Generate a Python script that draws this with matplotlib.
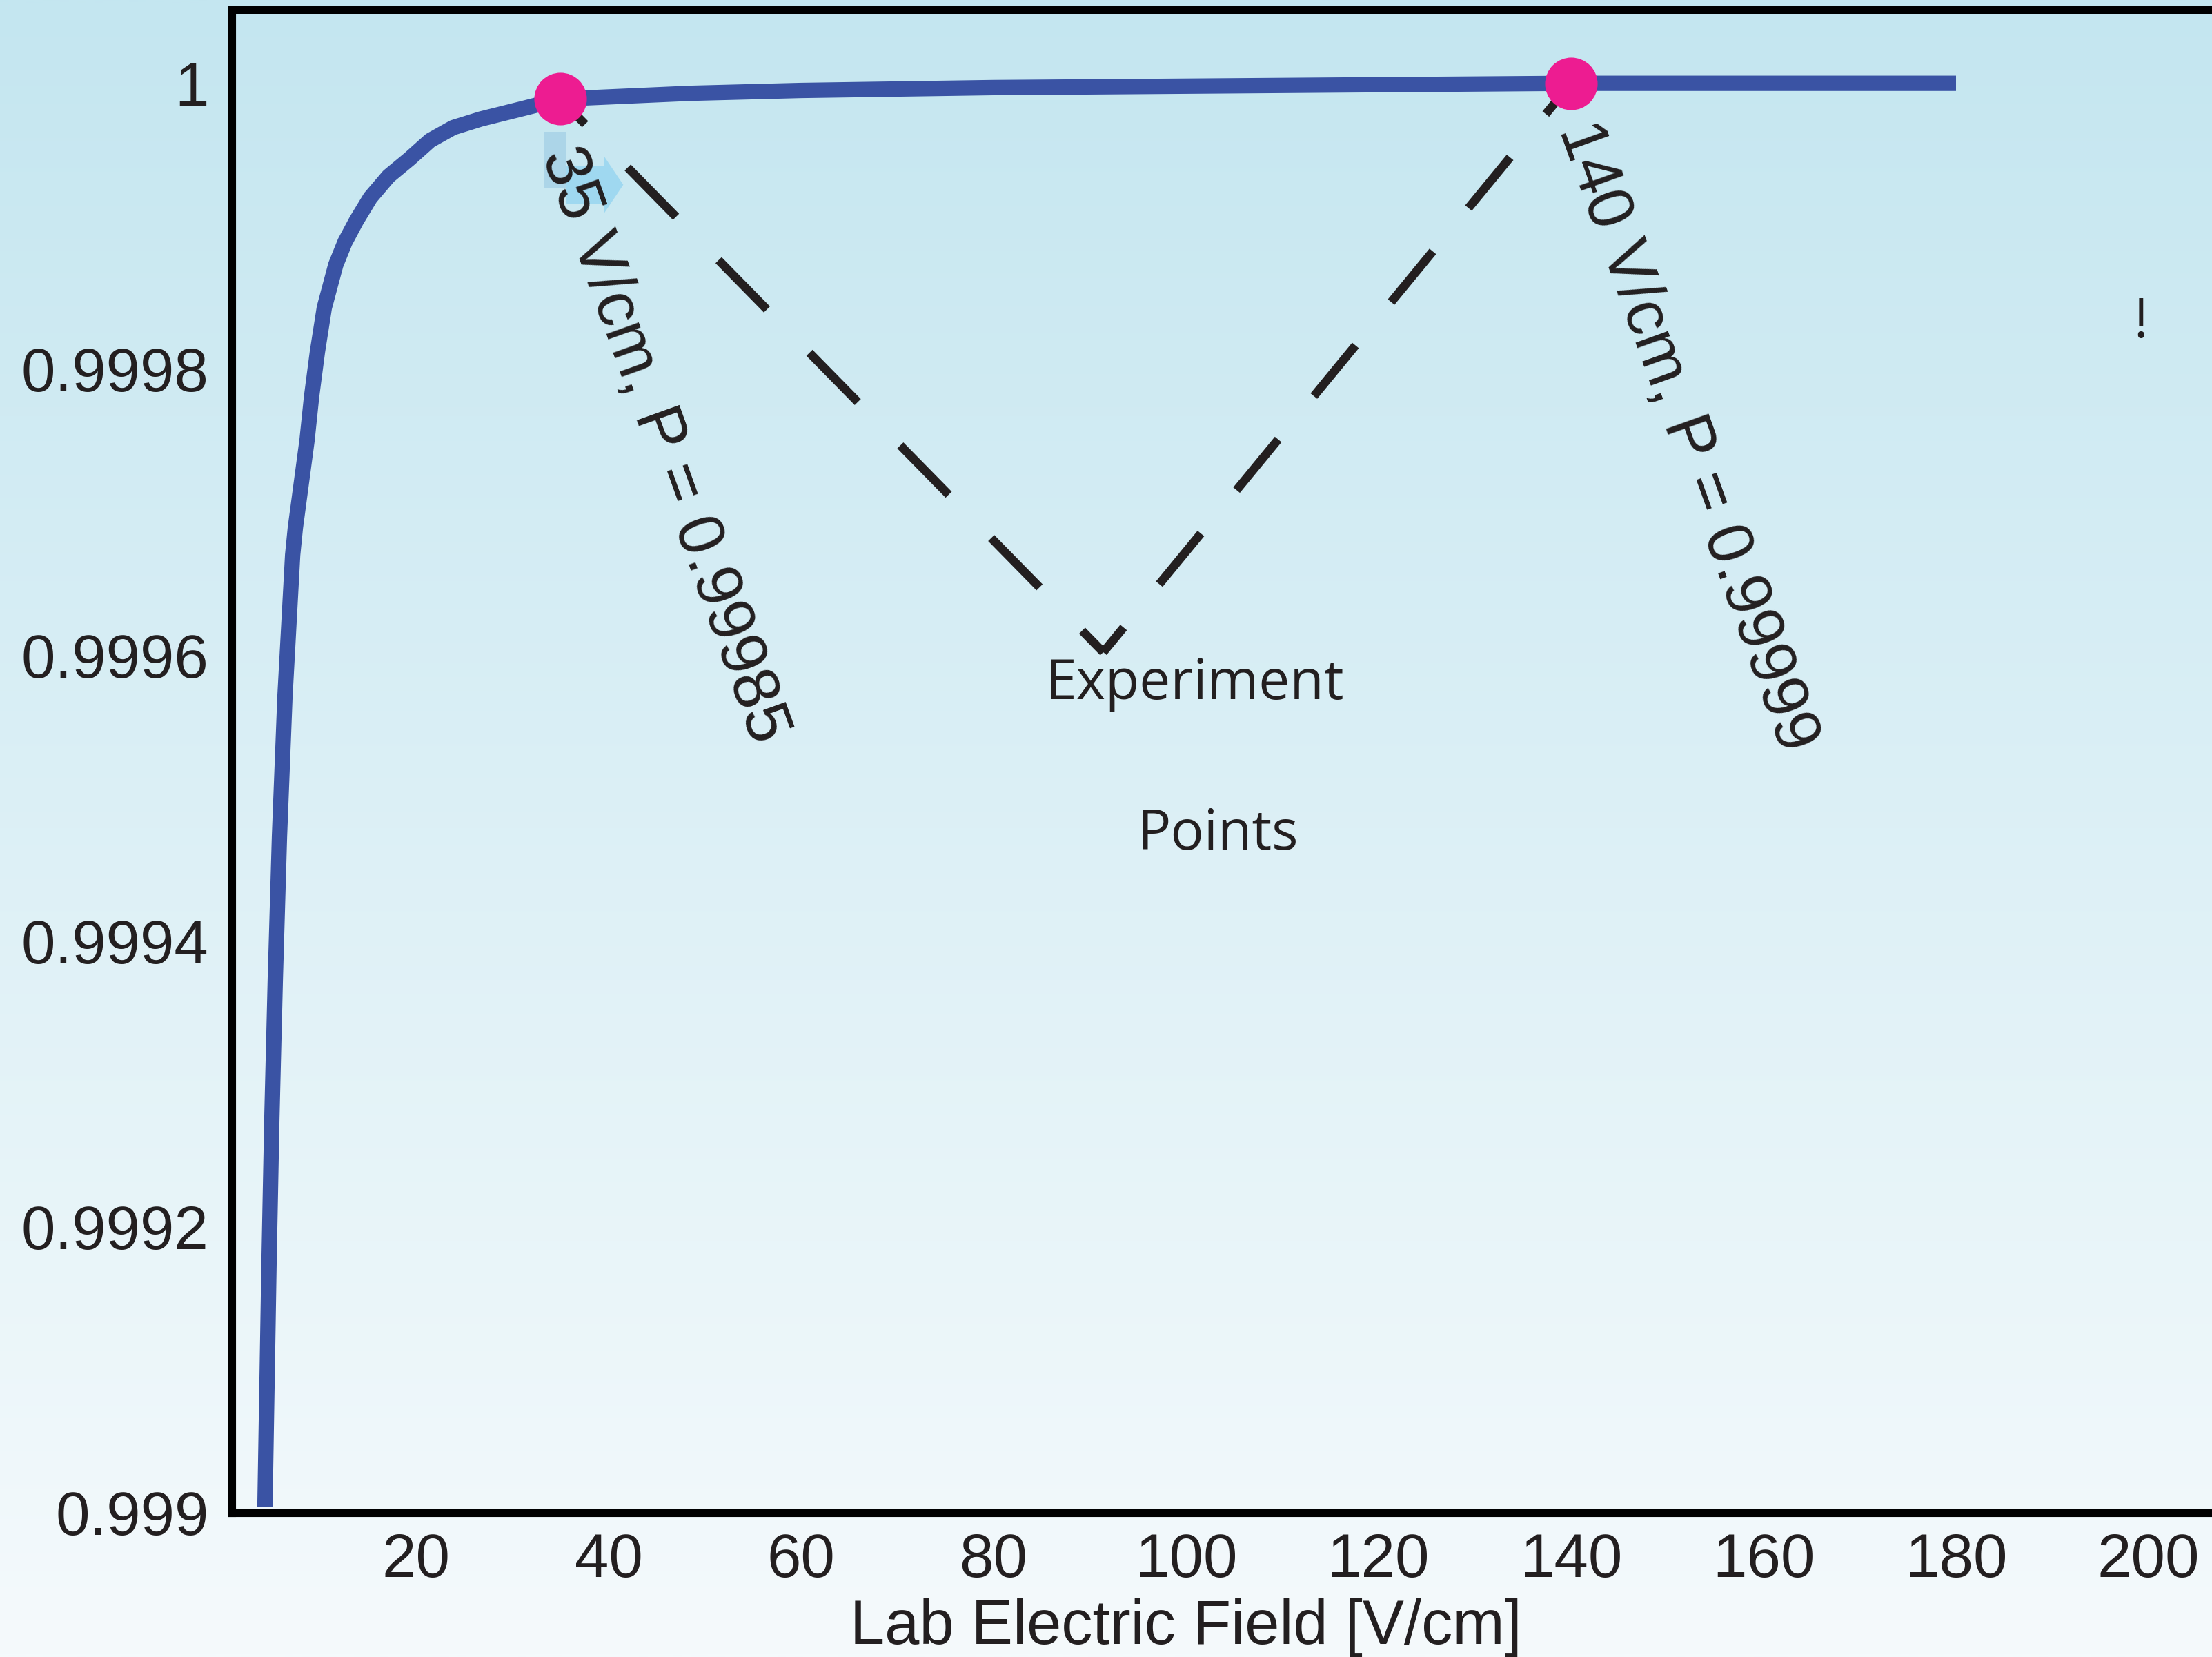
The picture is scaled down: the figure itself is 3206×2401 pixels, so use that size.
import numpy as np
import matplotlib
matplotlib.use("Agg")
import matplotlib.pyplot as plt
from matplotlib.patches import FancyArrow, Rectangle
from matplotlib.transforms import blended_transform_factory

# Transition probability versus lab electric field
field = [4.30, 4.73, 5.02, 5.38, 5.81, 6.38, 7.18, 7.46, 8.67, 9.15, 9.75,
         10.47, 11.66, 12.62, 13.81, 15.25, 17.15, 19.30, 21.46, 23.85, 26.72,
         31.49, 35.0, 48.5, 60, 80, 100, 120, 140, 160, 180]
prob = [0.999004, 0.999177, 0.999276, 0.999374, 0.999473, 0.999571, 0.999670,
        0.999689, 0.999750, 0.999781, 0.999812, 0.999843, 0.999873, 0.999889,
        0.999904, 0.999920, 0.999935, 0.999947, 0.999960, 0.999969, 0.999975,
        0.999983, 0.999989, 0.999993, 0.999995, 0.999997, 0.999998, 0.999999,
        1.0, 1.0, 1.0]

# Operating points used in the experiment
point_field = [35, 140]
point_prob = [0.999989, 1.0]
point_P = ["0.99985", "0.99999"]

x_ticks = [20, 40, 60, 80, 100, 120, 140, 160, 180, 200]
y_ticks = [0.999, 0.9992, 0.9994, 0.9996, 0.9998, 1.0]
y_tick_labels = ["0.999", "0.9992", "0.9994", "0.9996", "0.9998", "1"]

plt.rcParams["lines.scale_dashes"] = False
plt.rcParams["font.family"] = ["Liberation Sans", "DejaVu Sans"]

DPI = 200
W, H = 3206, 2401
fig = plt.figure(figsize=(W / DPI, H / DPI), dpi=DPI)

# vertical background gradient
bg = fig.add_axes([0, 0, 1, 1], zorder=-10)
top = np.array([196, 230, 240]) / 255
bot = np.array([245, 250, 252]) / 255
t = np.linspace(0, 1, 256)[:, None]
grad = (top[None, :] * (1 - t) + bot[None, :] * t)[:, None, :]
bg.imshow(grad, aspect="auto", extent=[0, 1, 0, 1], interpolation="bilinear")
bg.set_axis_off()

# axes frame runs off the right edge of the canvas
left_px, right_px, top_px, bot_px = 336, 3300, 14, 2192
ax = fig.add_axes([left_px / W, 1 - bot_px / H,
                   (right_px - left_px) / W, (bot_px - top_px) / H])
ax.set_facecolor("none")

px_per_unit = 13.95
x0_px = 324
ax.set_xlim((left_px - x0_px) / px_per_unit, (right_px - x0_px) / px_per_unit)
ax.set_ylim(0.999, 1.0000515)

ink = "#231f20"
for s in ["left", "top", "bottom"]:
    ax.spines[s].set_linewidth(4)
    ax.spines[s].set_color("black")
ax.spines["right"].set_visible(False)

ax.set_xticks(x_ticks)
ax.set_xticklabels([str(v) for v in x_ticks])
ax.set_yticks(y_ticks)
ax.set_yticklabels(y_tick_labels)
ax.tick_params(axis="both", length=0, labelsize=32, colors=ink)
ax.tick_params(axis="y", pad=12)
ax.tick_params(axis="x", pad=10)

ax.set_xlabel("Lab Electric Field [V/cm]", fontsize=32.5, color=ink)
ax.xaxis.set_label_coords(100, -0.0872,
                          transform=blended_transform_factory(ax.transData, ax.transAxes))
ax.xaxis.label.set_va("baseline")

# probability curve
ax.plot(field, prob, color="#3a53a4", lw=8, solid_capstyle="butt",
        solid_joinstyle="round", zorder=3)

# dashed guides from the two points down to the caption
vertex = (91.4, 0.999602)
ax.plot([point_field[0], vertex[0]], [point_prob[0], vertex[1]], color=ink, lw=4.5,
        linestyle=(17.6, (36.0, 31.7)), dash_capstyle="butt", zorder=2)
ax.plot([vertex[0], point_field[1]], [vertex[1], point_prob[1]], color=ink, lw=4.5,
        linestyle=(17.5, (34.2, 29.3)), dash_capstyle="butt", zorder=2)

# markers
ax.plot(point_field, point_prob, "o", ms=27.4, color="#ed1c91", mec="none", zorder=5)

# small pointer beside the first label
ax.add_patch(Rectangle((33.26, 0.999927), 2.37, 0.000039, color="#acd5e8",
                       lw=0, zorder=3))
ax.add_patch(FancyArrow(35.63, 0.999929, 5.9, 0, width=0.0000266,
                        head_width=0.000040, head_length=2.0,
                        length_includes_head=True, color="#9fd8f0", lw=0, zorder=3))

label_pos = [(45.7, 0.999747), (152.0, 0.999753)]
for f, p, (lx, ly) in zip(point_field, point_P, label_pos):
    ax.text(lx, ly, f"{f} V/cm, P = {p}", fontsize=34, color=ink,
            rotation=-70.3, rotation_mode="anchor", ha="center", va="center", zorder=6)

ax.text(100.9, 0.999569, "Experiment", fontsize=29, color=ink,
        family="Open Sans", ha="center", va="baseline", zorder=6)
ax.text(103.3, 0.999464, "Points", fontsize=29, color=ink,
        family="Open Sans", ha="center", va="baseline", zorder=6)
ax.text(199.2, 0.999822, "!", fontsize=28, color=ink,
        family="Open Sans", ha="center", va="baseline", zorder=6)

fig.savefig("out.png", dpi=DPI)
